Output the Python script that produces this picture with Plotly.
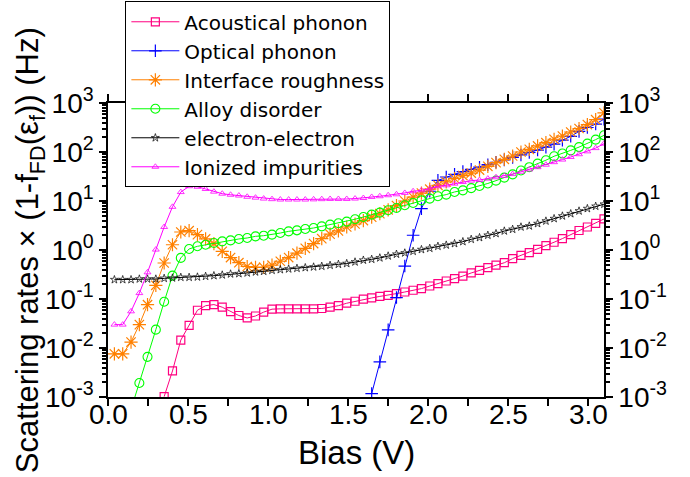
import plotly.graph_objects as go

bias = [0.040, 0.092, 0.144, 0.196, 0.247, 0.299, 0.351, 0.403, 0.455, 0.507,
        0.559, 0.610, 0.662, 0.714, 0.766, 0.818, 0.870, 0.922, 0.973, 1.025,
        1.077, 1.129, 1.181, 1.233, 1.285, 1.336, 1.388, 1.440, 1.492, 1.544,
        1.596, 1.648, 1.699, 1.751, 1.803, 1.855, 1.907, 1.959, 2.011, 2.062,
        2.114, 2.166, 2.218, 2.270, 2.322, 2.374, 2.425, 2.477, 2.529, 2.581,
        2.633, 2.685, 2.737, 2.788, 2.840, 2.892, 2.944, 2.996, 3.048, 3.100]

acoustical = [None, None, None, None, None, None,
              0.00102, 0.0034, 0.0145, 0.029, 0.059, 0.073, 0.077, 0.068, 0.055, 0.046,
              0.041, 0.045, 0.054, 0.062, 0.063, 0.063, 0.063, 0.063, 0.063, 0.064,
              0.068, 0.073, 0.082,
              0.090, 0.099, 0.105, 0.113, 0.119, 0.129, 0.139, 0.151, 0.163, 0.184,
              0.206, 0.233, 0.26, 0.294, 0.34, 0.385, 0.436, 0.49, 0.55, 0.667,
              0.78, 0.885, 1.03, 1.23, 1.44, 1.71, 2.05, 2.5, 2.95, 3.5, 4.3]

optical = [None] * 31 + [0.00117, 0.0052, 0.0234, 0.107, 0.47, 2.0, 7.0, 15.8, 26.3, 30.9,
                         35.1, 39.8, 44.4, 49, 55, 61.7, 69.2, 77.6, 87.1, 97.7,
                         109.6, 126, 144.5, 174, 209, 263, 316, 372, 468]

interface = [0.0076, 0.0076, 0.0132, 0.030, 0.0766, 0.19, 0.543, 1.28, 2.33, 2.48,
             2.06, 1.68, 1.35, 0.94, 0.70, 0.55, 0.46, 0.44, 0.445, 0.49,
             0.59, 0.70, 0.86, 1.08, 1.35, 1.70, 2.1, 2.45, 2.95,
             3.39, 3.98, 4.68, 5.5, 6.6, 8.1, 10.0, 12.0, 14.5, 17.4,
             20.9, 24.5, 28.8, 33.1, 37.2, 42.7, 51, 60.7, 71, 82.8,
             100, 113.5, 133, 155, 182, 212, 256, 302, 363, 457, 631]

alloy = [None, None, 0.00056, 0.00193, 0.0066, 0.0237, 0.088, 0.30, 0.69, 1.05,
         1.19, 1.28, 1.39, 1.50, 1.57, 1.68, 1.76, 1.90, 1.96, 2.06,
         2.22, 2.40, 2.52, 2.68, 2.81, 3.04, 3.29, 3.52, 3.8, 4.24,
         4.71, 5.27, 5.8, 6.46, 7.2, 8.2, 9.1, 10.3, 11.2, 12.5,
         13.5, 15.3, 16.5, 18.3, 20.2, 22.8, 26, 30, 35, 42,
         49, 58, 68, 82, 93, 108, 126, 148, 179, 219]

electron = [0.248, 0.248, 0.248, 0.256, 0.256, 0.256, 0.264, 0.268, 0.277, 0.277,
            0.281, 0.290, 0.299, 0.309, 0.324, 0.329, 0.34, 0.356, 0.367, 0.385,
            0.397, 0.41, 0.423, 0.436, 0.45, 0.465, 0.487, 0.51, 0.53,
            0.57, 0.62, 0.645, 0.69, 0.755, 0.82, 0.87, 0.94, 1.02, 1.08,
            1.19, 1.26, 1.35, 1.48, 1.65, 1.79, 2.0, 2.16, 2.44, 2.64,
            2.95, 3.09, 3.46, 3.9, 4.37, 4.94, 5.5, 6.25, 7.0, 7.8, 8.6]

ionized = [0.030, 0.030, 0.056, 0.132, 0.35, 1.02, 2.95, 7.6, 15.2, 20,
           19.5, 17.6, 15.5, 14.1, 13.4, 12.9, 12.2, 11.7, 11.2, 10.9,
           10.7, 10.7, 10.7, 10.7, 10.8, 10.9, 11.0, 11.0, 11.0,
           11.2, 11.5, 12.1, 12.5, 13.1, 13.7, 14.6, 15.8, 16.5, 17.9,
           20, 20.9, 22.6, 24.4, 26, 26.8, 28.6, 30.5, 32.5, 35.5,
           39.5, 44, 49, 55, 62, 70, 79, 90, 103, 120, 148]

names = ["Acoustical phonon", "Optical phonon", "Interface roughness",
         "Alloy disorder", "electron-electron", "Ionized impurities"]
x_tick_vals = [0.0, 0.5, 1.0, 1.5, 2.0, 2.5, 3.0]
x_tick_text = ["0.0", "0.5", "1.0", "1.5", "2.0", "2.5", "3.0"]
y_tick_vals = [1e-3, 1e-2, 1e-1, 1e0, 1e1, 1e2, 1e3]
y_tick_text = ["10<sup>-3</sup>", "10<sup>-2</sup>", "10<sup>-1</sup>", "10<sup>0</sup>",
               "10<sup>1</sup>", "10<sup>2</sup>", "10<sup>3</sup>"]
x_title = "Bias (V)"
y_title = "Scattering rates × (1-f<sub>FD</sub>(ε<sub>f</sub>)) (Hz)"

series = [acoustical, optical, interface, alloy, electron, ionized]
colors = ["#FF0080", "#0000FF", "#FF8000", "#00FF00", "#000000", "#FF00FF"]
symbols = ["square-open", "cross-thin-open", "asterisk-open", "circle-open",
           "star-open", "triangle-up-open"]
sizes = [8, 9, 11, 9, 6, 6]
edge_widths = [1.2, 1.2, 1.2, 1.1, 0.7, 0.8]

FONT = "Liberation Sans, Arial, sans-serif"

fig = go.Figure()
for name, vals, c, s, sz, ew in zip(names, series, colors, symbols, sizes, edge_widths):
    fig.add_trace(go.Scatter(
        x=bias, y=vals, name=name, mode="lines+markers",
        line=dict(color=c, width=1),
        marker=dict(symbol=s, size=sz, color=c, line=dict(color=c, width=ew)),
    ))

# invisible companion trace so that the right-hand axis is drawn
fig.add_trace(go.Scatter(x=bias, y=electron, yaxis="y2", mode="lines",
                         line=dict(width=0), opacity=0, showlegend=False,
                         hoverinfo="skip"))

axis_common = dict(showline=True, linecolor="black", linewidth=1.5,
                   ticks="outside", tickcolor="black", tickwidth=1.5,
                   showgrid=False, zeroline=False)

annotations = [dict(text=t, x=v, xref="x", y=-0.058, yref="paper",
                    xanchor="center", yanchor="middle", showarrow=False,
                    font=dict(size=28, family=FONT))
               for v, t in zip(x_tick_vals, x_tick_text)]
annotations.append(dict(text=x_title, x=0.5, xref="paper", y=-0.19, yref="paper",
                        xanchor="center", yanchor="middle", showarrow=False,
                        font=dict(size=33, family=FONT)))
annotations.append(dict(text=y_title, xref="paper", yref="paper", x=-0.157, y=0.5,
                        textangle=-90, xanchor="center", yanchor="middle",
                        showarrow=False, font=dict(size=31, family=FONT)))

fig.update_layout(
    width=690, height=477,
    margin=dict(l=108, r=86, t=103, b=80, autoexpand=False),
    paper_bgcolor="white", plot_bgcolor="white",
    font=dict(family=FONT, color="black"),
    xaxis=dict(range=[0, 3.1], tickmode="array", tickvals=x_tick_vals,
               showticklabels=False, ticklen=7, mirror="allticks",
               minor=dict(dtick=0.25, tick0=0, ticklen=4, ticks="outside", tickcolor="black"),
               **axis_common),
    yaxis=dict(type="log", range=[-3, 3], tickmode="array",
               tickvals=y_tick_vals, ticktext=y_tick_text, ticklen=7,
               minor=dict(dtick="D1", ticklen=4, ticks="outside", tickcolor="black"),
               tickfont=dict(size=28),
               **axis_common),
    yaxis2=dict(type="log", range=[-3, 3], overlaying="y", side="right", anchor="x",
                tickmode="array", tickvals=y_tick_vals, ticktext=y_tick_text, ticklen=7,
                minor=dict(dtick="D1", ticklen=4, ticks="outside", tickcolor="black"),
                tickfont=dict(size=28),
                **axis_common),
    legend=dict(x=0.035, y=1.346, xanchor="left", yanchor="top",
                bgcolor="white", bordercolor="black", borderwidth=1,
                font=dict(size=20, family="DejaVu Sans, Liberation Sans, sans-serif"),
                itemwidth=48, tracegroupgap=0),
    annotations=annotations,
)

fig.write_html("out.html", config={"displayModeBar": False},
               post_script="document.body.style.margin='0';")
